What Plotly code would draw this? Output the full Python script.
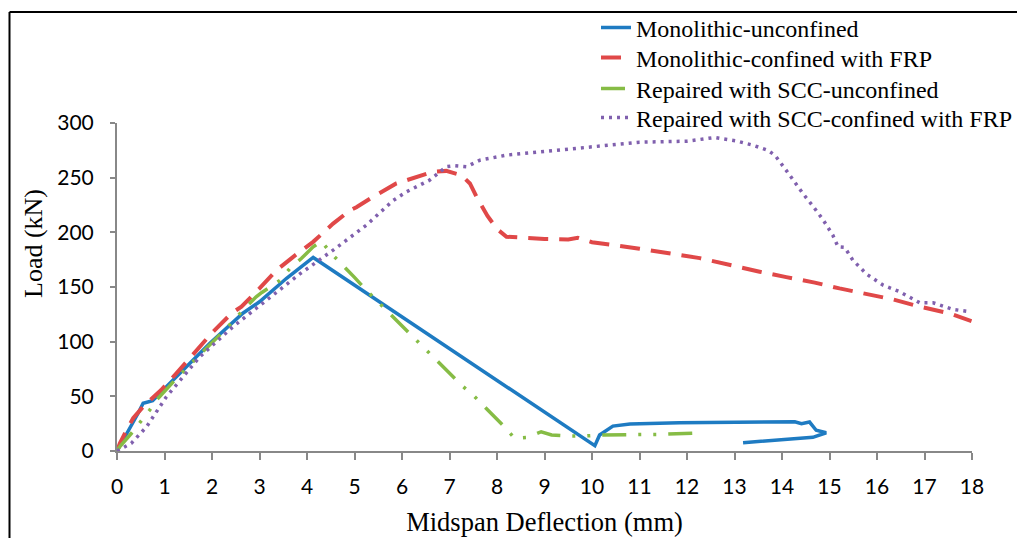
import plotly.graph_objects as go

# Monolithic-unconfined
mu_x = [0, 0.2, 0.45, 0.55, 0.75, 1.04, 1.95, 2.65, 3.0, 3.57, 4.13, 10.06, 10.16, 10.44, 10.8, 11.84, 13.25, 14.27, 14.41, 14.58, 14.72, 14.93, 14.65, 13.95, 13.18]
mu_y = [0, 15, 35, 43.6, 46, 58.8, 98.4, 126, 136.5, 158, 177, 4.8, 14.6, 22.8, 24.7, 25.9, 26.5, 26.8, 25, 26.5, 19, 16.7, 12.5, 10, 7.6]

# Monolithic-confined with FRP
mc_x = [0, 0.06, 0.2, 0.34, 0.55, 0.93, 1.25, 1.64, 1.99, 2.41, 2.62, 3.0, 3.36, 3.71, 4.13, 4.55, 4.9, 5.04, 5.39, 5.88, 6.23, 6.65, 6.93, 7.25, 7.43, 7.57, 7.8, 8.0, 8.2, 8.5, 9.0, 9.5, 9.7, 10.0, 11.0, 12.27, 12.97, 13.53, 14.09, 14.69, 15.21, 15.32, 15.78, 16.34, 16.9, 17.53, 17.99]
mc_y = [0, 7, 19, 30, 40.5, 55.8, 71, 90.8, 107.6, 125.9, 132, 148.7, 165.4, 177.6, 191.3, 208, 220, 223, 232.5, 244.7, 249.3, 255.3, 256.2, 252.3, 244.7, 232.5, 215, 203, 196, 195, 194, 193.5, 195, 191, 185, 176.4, 169, 164, 159, 154, 148.7, 147.8, 143.5, 138.6, 132, 125.9, 118.8]

# Repaired with SCC-unconfined
ru_x = [0, 0.06, 0.3, 0.69, 0.83, 1.18, 1.88, 2.3, 2.72, 2.93, 3.05, 3.43, 3.64, 3.88, 4.13, 4.3, 4.51, 4.76, 5.0, 5.25, 5.64, 5.88, 7.25, 7.5, 7.92, 8.16, 8.37, 8.65, 8.93, 9.15, 9.5, 9.85, 10.16, 10.8, 11.43, 12.34]
ru_y = [0, 4, 16, 37.5, 46.6, 63, 94, 112, 132, 141, 145, 156, 167, 176, 186.7, 192, 180.7, 170, 158.8, 147, 130, 120, 60.3, 51, 33, 22, 11.6, 12.5, 17.6, 14.6, 13.7, 13.7, 14.6, 14.6, 15.2, 16.7]

# Repaired with SCC-confined with FRP
rc_x = [0, 0.3, 0.62, 1.04, 1.74, 2.44, 3.15, 3.85, 4.55, 5.25, 5.81, 6.09, 6.58, 6.93, 7.1, 7.36, 7.64, 8.2, 9.0, 10.0, 11.0, 12.0, 12.58, 13.04, 13.39, 13.7, 13.85, 14.06, 14.23, 14.44, 14.65, 14.86, 15.07, 15.18, 15.32, 15.49, 15.78, 16.13, 16.48, 16.9, 17.18, 17.6, 17.97]
rc_y = [0, 7, 22, 49.6, 86, 113.6, 138, 162, 183.7, 206.6, 229, 237, 247.7, 260, 261, 260, 266, 270.6, 274, 278, 282.4, 283.4, 286.7, 283.6, 279.7, 275, 270.6, 258.4, 247.7, 235.5, 224, 211.8, 197.4, 186.7, 186.2, 174.6, 161.8, 151.7, 145.6, 135.6, 135.6, 129.5, 127.3]

names = ["Monolithic-unconfined", "Monolithic-confined with FRP",
         "Repaired with SCC-unconfined", "Repaired with SCC-confined with FRP"]

fig = go.Figure()
fig.add_trace(go.Scatter(x=mu_x, y=mu_y, mode="lines", name=names[0], legend="legend",
                         line=dict(color="#1E7BC2", width=3.5)))
fig.add_trace(go.Scatter(x=mc_x, y=mc_y, mode="lines", name=names[1], legend="legend2",
                         line=dict(color="#E04848", width=4, dash="20px,11px")))
fig.add_trace(go.Scatter(x=ru_x, y=ru_y, mode="lines", name=names[2], legend="legend3",
                         line=dict(color="#86BC45", width=3.5, dash="24px,12px,3px,12px,3px,12px")))
fig.add_trace(go.Scatter(x=rc_x, y=rc_y, mode="lines", name=names[3], legend="legend4",
                         line=dict(color="#8060AE", width=3.5, dash="3px,5px")))

W, H = 1017, 538
L, R, T, B = 117, 45, 123, 87
pw, ph = W - L - R, H - T - B

def px_x(p):
    return (p - L) / pw

def px_y(p):
    return (H - B - p) / ph

def leg(row_px):
    return dict(x=px_x(596), y=px_y(row_px), xanchor="left", yanchor="middle",
                font=dict(family="Liberation Serif", size=24, color="black"),
                bgcolor="rgba(0,0,0,0)")

fig.update_layout(
    width=W, height=H,
    margin=dict(l=L, r=R, t=T, b=B, autoexpand=False),
    paper_bgcolor="white", plot_bgcolor="white",
    showlegend=True,
    legend=leg(28), legend2=leg(58), legend3=leg(89), legend4=leg(118),
    xaxis=dict(range=[0, 18], dtick=1, tick0=0, showgrid=False, zeroline=False,
               showline=True, linecolor="#888888", linewidth=2,
               ticks="outside", ticklen=7, tickwidth=2, tickcolor="#888888",
               tickfont=dict(family="Lato", size=21, color="black"),
               ticklabelstandoff=9,
               title=dict(text="Midspan Deflection (mm)", standoff=15,
                          font=dict(family="Liberation Serif", size=26.5, color="black"))),
    yaxis=dict(range=[0, 300], dtick=50, showgrid=False, zeroline=False,
               showline=True, linecolor="#888888", linewidth=2,
               ticks="outside", ticklen=5, tickwidth=2, tickcolor="#888888",
               tickfont=dict(family="Lato", size=21, color="black"),
               ticklabelstandoff=12),
    annotations=[dict(text="Load (kN)", textangle=-90, xref="paper", yref="paper",
                      x=px_x(33), y=px_y(244), xanchor="center", yanchor="middle",
                      showarrow=False,
                      font=dict(family="Liberation Serif", size=26, color="black"))],
    shapes=[
        dict(type="line", xref="paper", yref="paper", x0=px_x(9.5), x1=px_x(1017),
             y0=px_y(12), y1=px_y(12), line=dict(color="black", width=2)),
        dict(type="line", xref="paper", yref="paper", x0=px_x(9.5), x1=px_x(9.5),
             y0=px_y(12), y1=px_y(540), line=dict(color="black", width=2)),
    ],
)

fig.write_html("out.html")
